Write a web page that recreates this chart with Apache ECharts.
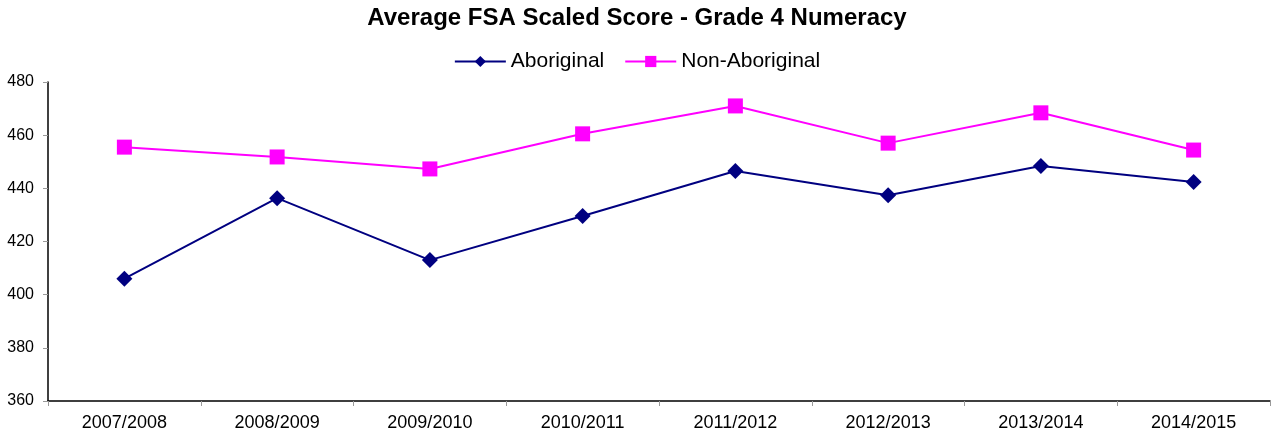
<!DOCTYPE html>
<html>
<head>
<meta charset="utf-8">
<script src="https://cdn.jsdelivr.net/npm/echarts@6/dist/echarts.min.js"></script>
<style>html,body{margin:0;padding:0;background:#fff;}#c{width:1274px;height:434px;}</style>
</head>
<body>
<div id="c"></div>
<script>
const categories = ['2007/2008','2008/2009','2009/2010','2010/2011','2011/2012','2012/2013','2013/2014','2014/2015'];
const aboriginal = [406, 436.3, 413, 429.6, 446.5, 437.4, 448.4, 442.4];
const nonAboriginal = [455.5, 451.8, 447.3, 460.5, 471, 457, 468.4, 454.4];
const seriesNames = ['Aboriginal', 'Non-Aboriginal'];

const FONT = 'Liberation Sans, Arial, sans-serif';
const chart = echarts.init(document.getElementById('c'));
chart.setOption({
  animation: false,
  backgroundColor: '#ffffff',
  title: {
    text: 'Average FSA Scaled Score - Grade 4 Numeracy',
    left: 'center', top: 1,
    textStyle: {fontFamily: FONT, fontSize: 24, fontWeight: 'bold', color: '#000'}
  },
  legend: {
    top: 46, left: 'center',
    itemWidth: 51, itemHeight: 14, itemGap: 20,
    textStyle: {fontFamily: FONT, fontSize: 21, color: '#000', padding: [0, 0, 0, 0]},
    data: seriesNames
  },
  grid: {left: 48, right: 4, top: 82, bottom: 33, containLabel: false},
  xAxis: {
    type: 'category', data: categories, boundaryGap: true,
    axisLine: {lineStyle: {color: '#000', width: 1.5}},
    axisTick: {show: true, alignWithLabel: false, length: 5, lineStyle: {color: '#999'}},
    axisLabel: {fontFamily: FONT, fontSize: 18, color: '#000', margin: 13}
  },
  yAxis: {
    type: 'value', min: 360, max: 480, interval: 20,
    axisLine: {show: true, lineStyle: {color: '#000', width: 1.5}},
    axisTick: {show: true, length: 5, lineStyle: {color: '#999'}},
    splitLine: {show: false},
    axisLabel: {fontFamily: FONT, fontSize: 16, color: '#000', margin: 14}
  },
  series: [
    {
      name: seriesNames[0], type: 'line', data: aboriginal,
      symbol: 'diamond', symbolSize: 16,
      lineStyle: {color: '#000080', width: 2},
      itemStyle: {color: '#000080'}
    },
    {
      name: seriesNames[1], type: 'line', data: nonAboriginal,
      symbol: 'rect', symbolSize: 15,
      lineStyle: {color: '#ff00ff', width: 2},
      itemStyle: {color: '#ff00ff'}
    }
  ]
});
</script>
</body>
</html>
